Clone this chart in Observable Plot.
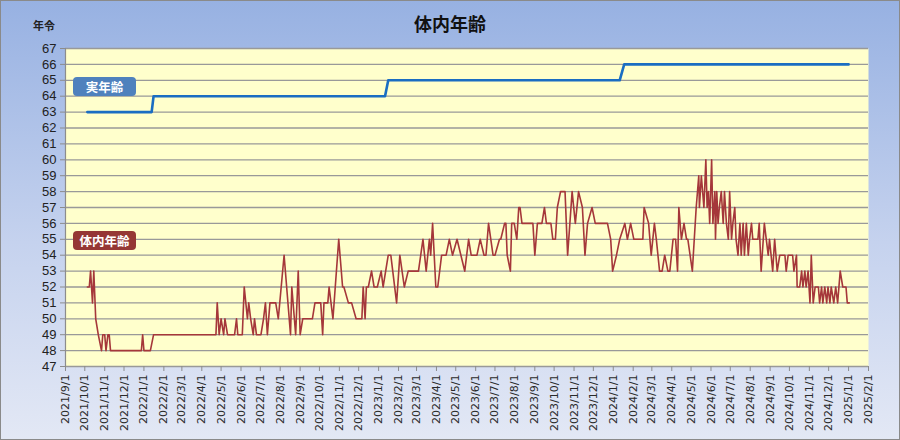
<!DOCTYPE html>
<html><head><meta charset="utf-8">
<script src="https://cdn.jsdelivr.net/npm/d3@7"></script>
<script src="https://cdn.jsdelivr.net/npm/@observablehq/plot@0.6"></script>
<style>
body{margin:0;}
#wrap{position:relative;width:900px;height:440px;background:linear-gradient(180deg,#97b1e2 0%,#c5d2ee 55%,#e3e8f5 100%);box-shadow:inset 0 0 0 1px #8a8a8a;overflow:hidden;font-family:"Noto Sans CJK JP","Noto Sans",sans-serif;}
#chart{position:absolute;left:0;top:0;}
#chart svg{display:block;}
.title{position:absolute;left:0;width:900px;top:12px;text-align:center;font-weight:bold;font-size:18px;line-height:22px;color:#111;}
.ylab{position:absolute;left:33px;top:18px;font-weight:bold;font-size:11px;line-height:14px;color:#222;}
.tag{position:absolute;left:73px;width:63px;height:19px;border-radius:4px;color:#fff;font-weight:bold;font-size:12.5px;line-height:19px;text-align:center;}
</style></head>
<body>
<div id="wrap">
  <div id="chart"></div>
  <div class="title">体内年齢</div>
  <div class="ylab">年令</div>
  <div class="tag" style="top:77px;background:#4f81bd;">実年齢</div>
  <div class="tag" style="top:231px;background:#953735;">体内年齢</div>
</div>
<script>
// day offsets are counted from startDate
const startDate = "2021-09-01";
const endDate = "2025-02-01";

const realAgeDay = [34, 134, 137, 497, 502, 862, 869, 1218];
const realAge    = [63, 63, 64, 64, 65, 65, 66, 66];

const bodyAgeDay = [
  34,37,39,42,44,47,51,56,58,61,63,66,68,70,
  118,120,122,132,137,
  234,236,239,242,246,248,252,263,266,268,275,
  278,283,285,288,292,294,297,304,308,311,314,318,327,331,
  340,350,352,356,358,362,365,369,384,388,397,400,402,408,410,416,
  425,431,433,440,445,452,461,463,466,468,471,476,480,485,491,494,
  502,506,515,520,527,533,549,556,561,566,568,571,576,579,
  585,592,597,602,609,615,621,627,631,640,
  645,651,654,658,665,668,675,677,683,685,687,692,694,698,702,705,707,710,
  727,730,734,741,745,748,755,758,762,765,770,777,781,788,793,798,804,808,812,819,824,
  843,848,851,857,862,870,874,879,884,
  898,900,907,911,916,919,924,928,932,937,940,945,949,952,954,958,962,966,968,975,
  981,985,986,989,993,996,998,1000,1002,1005,1007,1010,1011,1013,1015,1017,1020,1023,1025,1028,1031,1033,1036,1038,1041,1043,
  1046,1049,1051,1054,1056,1059,1062,1064,1067,1069,1077,1079,1082,1087,1090,1093,1095,1100,1103,1107,1111,1119,1121,1124,
  1131,1133,1137,1138,1142,1145,1147,1150,1152,1155,1158,1160,1163,1166,1171,1173,1176,1178,1181,1184,1186,1189,1191,1195,1198,1201,1205,1209,1214,1216,1219
];
const bodyAge = [
  52,52,53,51,53,50,49,48,49,49,48,49,49,48,
  48,49,48,48,49,
  49,51,49,50,49,50,49,49,50,49,49,
  52,50,51,50,49,50,49,49,50,51,49,51,51,50,
  54,49,52,50,49,53,49,50,50,51,51,49,51,51,52,50,
  55,52,52,51,51,50,50,52,50,52,52,53,52,52,53,52,
  54,54,51,54,52,53,53,55,53,55,54,56,52,52,
  54,54,55,54,55,54,53,55,54,54,
  55,54,54,56,54,54,55,55,56,56,54,53,56,56,55,57,57,56,
  56,54,56,56,57,56,56,55,55,57,58,58,54,58,56,58,57,54,56,57,56,
  56,55,53,54,55,56,55,56,55,
  55,57,56,54,56,55,53,53,54,53,53,55,55,53,57,55,56,55,55,53,
  57,59,57,59,57,60,57,58,56,60,56,58,55,58,56,57,58,56,58,56,55,58,55,56,57,55,
  54,56,54,56,54,56,54,55,56,55,55,56,53,56,55,54,55,53,55,53,54,54,53,54,
  54,53,54,52,52,53,52,53,52,53,51,54,51,52,52,51,52,51,52,51,52,51,52,51,52,51,53,52,52,51,51
];

const yTicks = d3.range(47, 68);

const t0 = new Date(startDate + "T00:00:00Z");
const t1 = new Date(endDate + "T00:00:00Z");
const toDate = d => d3.utcDay.offset(t0, d);
const real = realAgeDay.map((d, i) => ({date: toDate(d), age: realAge[i]}));
const body = bodyAgeDay.map((d, i) => ({date: toDate(d), age: bodyAge[i]}));
const monthTicks = d3.utcMonth.range(t0, d3.utcDay.offset(t1, 1));

const chart = Plot.plot({
  width: 900,
  height: 440,
  marginLeft: 65,
  marginRight: 32,
  marginTop: 48,
  marginBottom: 74,
  style: {background: "transparent", fontFamily: "DejaVu Sans", color: "#333"},
  x: {type: "utc", domain: [t0, t1]},
  y: {domain: [47, 67]},
  marks: [
    Plot.frame({fill: "#ffffcc", stroke: null}),
    Plot.ruleY(yTicks, {stroke: "#999999", strokeWidth: 1.3}),
    Plot.ruleX([t0], {stroke: "#8c8c8c", strokeWidth: 1.2}),
    Plot.axisY({ticks: yTicks, tickSize: 5, tickPadding: 4, label: null, fontSize: 13,
      fontFamily: "Liberation Sans", stroke: "#8c8c8c", fill: "#222"}),
    Plot.axisX({ticks: monthTicks, tickFormat: d3.utcFormat("%Y/%-m/%-d"), tickRotate: -90,
      tickSize: 5, tickPadding: 3, label: null, fontSize: 11, stroke: "#8c8c8c", fill: "#2a2a2a"}),
    Plot.line(real, {x: "date", y: "age", stroke: "#1a6dc2", strokeWidth: 2.6}),
    Plot.line(body, {x: "date", y: "age", stroke: "#a5373a", strokeWidth: 1.6})
  ]
});
document.getElementById("chart").appendChild(chart);
</script>
</body></html>
